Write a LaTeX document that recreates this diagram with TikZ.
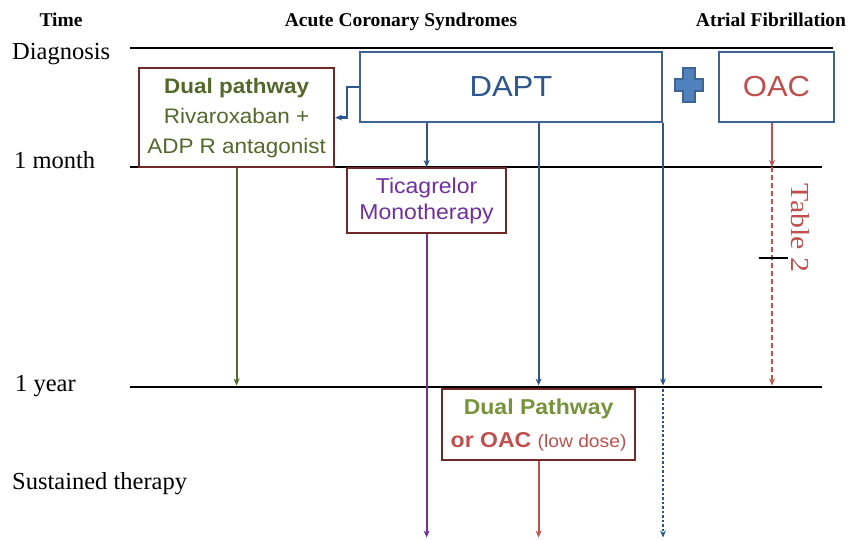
\documentclass[tikz,border=0pt]{standalone}
\usepackage{fontspec}
\setmainfont{Liberation Serif}
\setsansfont{Liberation Sans}
\newfontfamily\wsans[FakeStretch=1.07]{Liberation Sans}
\newfontfamily\wserif[FakeStretch=1.15]{Liberation Serif}
\usetikzlibrary{arrows.meta,calc}
\definecolor{cblue}{RGB}{44,86,140}
\definecolor{bborder}{RGB}{62,100,150}
\definecolor{dred}{RGB}{112,40,40}
\definecolor{olive}{RGB}{84,104,44}
\definecolor{lgreen}{RGB}{119,147,60}
\definecolor{cred}{RGB}{192,80,77}
\definecolor{cpurple}{RGB}{112,48,160}
\definecolor{pfill}{RGB}{79,129,189}
\begin{document}
\begin{tikzpicture}[x=1pt,y=-1pt,
  hline/.style={line width=2.5pt,black},
  rbox/.style={draw=dred,line width=2.2pt,fill=white,anchor=north west,inner sep=0pt,align=center},
  bbox/.style={draw=bborder,line width=2pt,fill=white,anchor=north west,inner sep=0pt,font=\wsans\fontsize{29}{34}\selectfont},
  arr/.style={line width=2.2pt,-{Stealth[length=7pt,width=6pt]}},
  lab/.style={anchor=base west,font=\fontsize{24.5}{28}\selectfont,inner sep=0pt},
  hdr/.style={anchor=base,font=\bfseries\fontsize{19.5}{22}\selectfont,inner sep=0pt}]
\useasboundingbox (0,0) rectangle (852,540);

% headers
\node[hdr] (h1) at (61,27) {Time};
\node[hdr] (h2) at (401,27) {Acute Coronary Syndromes};
\node[hdr] (h3) at (771,27) {Atrial Fibrillation};

% time labels
\node[lab] (l1) at (12,60) {Diagnosis};
\node[lab] (l2) at (14,169) {1 month};
\node[lab] (l3) at (15,391) {1 year};
\node[lab] (l4) at (12,489) {Sustained therapy};

% horizontal lines
\coordinate (d0) at (130,48);  \coordinate (d1) at (833,48);
\coordinate (m0) at (130,167); \coordinate (m1) at (822,167);
\coordinate (y0) at (130,387); \coordinate (y1) at (822,387);
\draw[hline] (d0) -- (d1);
\draw[hline] (m0) -- (m1);
\draw[hline] (y0) -- (y1);

\coordinate (yl) at (0,385.5);
\coordinate (yl2) at (0,389);
\coordinate (bot) at (0,537.5);
\coordinate (oacx) at (772,0);

% boxes
\node[bbox,minimum width=302pt,minimum height=70pt] (dapt) at (359,51) {\color{cblue}DAPT};
\node[bbox,minimum width=115pt,minimum height=70pt] (oac) at (718,51) {\color{cred}OAC};
\node[rbox,minimum width=195pt,minimum height=99pt,text=olive,font=\wsans\fontsize{21}{30}\selectfont] (dual) at (138,67)
  {\textbf{Dual pathway}\\Rivaroxaban +\\ADP R antagonist};
\node[rbox,minimum width=159pt,minimum height=65pt,text=cpurple,font=\wsans\fontsize{21.5}{26}\selectfont] (tica) at (346,167)
  {Ticagrelor\\Monotherapy};
\node[rbox,minimum width=193pt,minimum height=71pt,font=\wsans\fontsize{21.5}{33}\selectfont] (dp) at (441,388)
  {\textcolor{lgreen}{\textbf{Dual Pathway}}\\\textcolor{cred}{\textbf{or OAC} {\fontsize{18}{20}\selectfont(low dose)}}};

% plus sign
\fill[pfill,draw=bborder,line width=1.2pt]
  (683,68) -- (695,68) -- (695,79) -- (703,79) -- (703,91) -- (695,91) -- (695,102)
  -- (683,102) -- (683,91) -- (675,91) -- (675,79) -- (683,79) -- cycle;

% connectors
\draw[arr,cblue] (dapt.west) -- ++(-12,0) |- (dual.east);
\draw[arr,cblue] (tica.north |- dapt.south) -- (tica.north);
\draw[arr,cblue] (dapt.south -| dp.north) -- (dp.north |- yl);
\draw[arr,cblue] (dapt.south east) -- (dapt.south east |- yl);
\draw[arr,cblue,line width=2.5pt,dash pattern=on 2.5pt off 2pt] (dapt.south east |- yl2) -- (dapt.south east |- bot);
\draw[arr,olive] (dual.south) -- (dual.south |- yl);
\draw[arr,cpurple] (tica.south) -- (tica.south |- bot);
\draw[arr,cred] (dp.south) -- (dp.south |- bot);
\draw[arr,cred] (oac.south -| oacx) -- (oacx |- m1);
\draw[arr,cred,dash pattern=on 5pt off 3pt] (oacx |- m1) -- (oacx |- yl);

% Table 2 marker
\coordinate (tk0) at (759,258); \coordinate (tk1) at (788,258);
\draw[line width=2pt] (tk0) -- (tk1);
\node[rotate=-90,text=cred,font=\wserif\fontsize{26}{28}\selectfont,inner sep=0pt] (t2) at (800,228) {Table 2};
\end{tikzpicture}
\end{document}
